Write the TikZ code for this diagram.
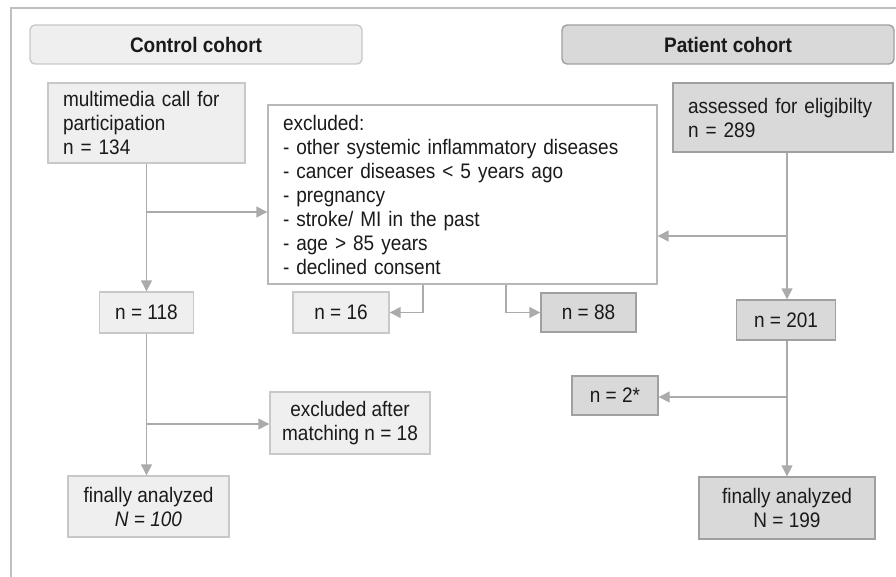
\documentclass[tikz,border=0pt]{standalone}
\usepackage{fontspec}
\setmainfont{Liberation Sans}[FakeStretch=0.905]
\usepackage{xcolor}
\usetikzlibrary{arrows.meta}
\definecolor{ctrlfill}{HTML}{EFEFEF}
\definecolor{ctrlline}{HTML}{C8C8C8}
\definecolor{patfill}{HTML}{D9D9D9}
\definecolor{patline}{HTML}{A0A0A0}
\definecolor{exclline}{HTML}{B8B8B8}
\definecolor{arrgray}{HTML}{ABABAB}
\definecolor{framegray}{HTML}{C0C0C0}
\definecolor{txt}{HTML}{1A1A1A}
\begin{document}
\begin{tikzpicture}[x=1pt,y=-1pt,line width=1.4pt,
        font=\fontsize{21}{24}\selectfont,
        arr/.style={draw=arrgray,-{Triangle[length=11pt,width=11pt]}},
        box/.style={draw,inner sep=0pt,align=center,text=txt},
        ctrl/.style={box,fill=ctrlfill,draw=ctrlline},
        pat/.style={box,fill=patfill,draw=patline},
        head/.style={rounded corners=5pt,minimum width=332pt,minimum height=39pt,
            font=\fontsize{21}{24}\selectfont\bfseries}]
\useasboundingbox (0,0) rectangle (896,577);
\draw[framegray] (11,600) |- (910,8);
\node[ctrl,head] (chead) at (196,44.5) {Control cohort};
\node[pat,head] (phead) at (728,44.5) {Patient cohort};
\node[ctrl,minimum width=197pt,minimum height=80pt,text width=167pt,align=left] (call) at (146.5,123) {multimedia call for\\participation\\n = 134};
\node[box,fill=white,draw=exclline,minimum width=389pt,minimum height=179pt,text width=359pt,align=left] (excl) at (462.5,194.5) {excluded:\\- other systemic inflammatory diseases\\- cancer diseases < 5 years ago\\- pregnancy\\- stroke/ MI in the past\\- age > 85 years\\- declined consent};
\node[pat,minimum width=220pt,minimum height=69pt,text width=190pt,align=left] (elig) at (783,117.5) {assessed for eligibilty\\n = 289};
\node[ctrl,minimum width=94pt,minimum height=41pt] (n118) at (146.5,312.5) {n = 118};
\node[ctrl,minimum width=96pt,minimum height=41pt] (n16) at (341,312.5) {n = 16};
\node[pat,minimum width=95pt,minimum height=39pt] (n88) at (588.5,312.5) {n = 88};
\node[pat,minimum width=99pt,minimum height=40pt] (n201) at (786,320) {n = 201};
\node[pat,minimum width=86pt,minimum height=39pt] (n2) at (615,395.5) {n = 2*};
\node[ctrl,minimum width=160pt,minimum height=62pt] (match) at (350,423) {excluded after\\matching n = 18};
\node[ctrl,minimum width=161pt,minimum height=61pt] (fin1) at (148.5,506.5) {finally analyzed\\\textit{N = 100}};
\node[pat,minimum width=176pt,minimum height=62pt] (fin2) at (787,508) {finally analyzed\\N = 199};
\coordinate (cb1) at (146.5,212);
\coordinate (cb2) at (146.5,424);
\coordinate (pb1) at (787,236);
\coordinate (pb2) at (787,397);
\draw[arr] (call) -- (n118);
\draw[arr] (cb1) -- (cb1 -| excl.west);
\draw[arr] (n118) -- (n118 |- fin1.north);
\draw[arr] (cb2) -- (cb2 -| match.west);
\draw[arr] (elig.south -| fin2) -- (n201.north -| fin2);
\draw[arr] (pb1) -- (pb1 -| excl.east);
\draw[arr] (n201.south -| fin2) -- (fin2);
\draw[arr] (pb2) -- (pb2 -| n2.east);
\draw[arr] ([xshift=-39.5pt]excl.south) |- (n16);
\draw[arr] ([xshift=43.5pt]excl.south) |- (n88);
\end{tikzpicture}
\end{document}
